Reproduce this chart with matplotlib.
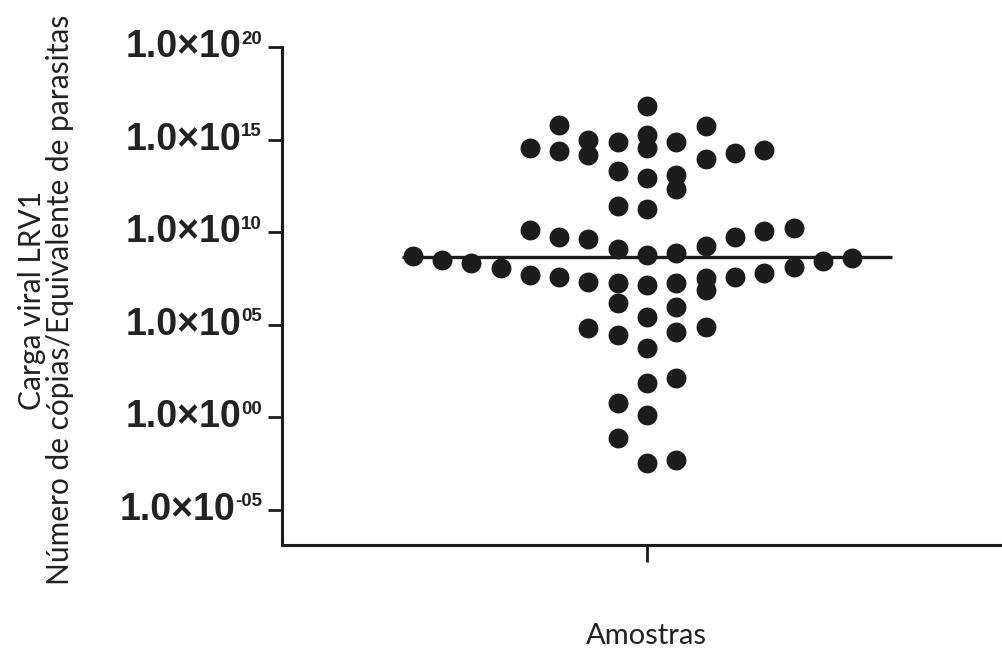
"""LRV1 viral load per sample, scatter dot plot on a log axis."""

import numpy as np
import matplotlib

matplotlib.use("Agg")
import matplotlib.pyplot as plt
import matplotlib.transforms as mtransforms
from matplotlib.ticker import FixedLocator, NullLocator

# log10(copies / parasite equivalent), one value per sample
log_load = [
    16.83, 15.79, 15.75, 15.25, 14.98, 14.89, 14.89, 14.53, 14.53, 14.44,
    14.38, 14.26, 14.17, 13.95, 13.32, 13.09, 12.92, 12.33, 11.41, 11.28,
    10.24, 10.12, 10.07, 9.76, 9.76, 9.63, 9.27, 9.08, 8.89, 8.79,
    8.72, 8.62, 8.50, 8.44, 8.32, 8.14, 8.05, 7.81, 7.69, 7.60,
    7.60, 7.53, 7.33, 7.24, 7.24, 7.15, 6.88, 6.19, 5.94, 5.41,
    4.87, 4.81, 4.60, 4.45, 3.73, 2.11, 1.84, 0.76, 0.13, -1.13,
    -2.30, -2.45,
]

tick_exponents = [20, 15, 10, 5, 0, -5]
x_label = "Amostras"
y_label = "Carga viral LRV1\nNúmero de cópias/Equivalente de parasitas"

INK = "#1c1c1c"
TEXT = "#222222"


def dot_columns(values, row_height=1.62, row_gap=1.58, min_gap=0.5):
    """Prism-like scatter layout: rows of close values spread centre-out,
    alternating the side each row starts on."""
    order = np.argsort(values)
    cols = np.zeros(len(values))
    placed = {}  # column -> list of values already there
    i, row = 0, 0
    while i < len(order):
        start = values[order[i]]
        members = []
        while i < len(order) and values[order[i]] < start + row_height:
            members.append(order[i])
            i += 1
        side = 1 if row % 2 == 0 else -1
        in_row = {}
        for j in members:
            v = values[j]
            k = 0
            while True:
                cands = [0] if k == 0 else [side * k, -side * k]
                hit = None
                for c in cands:
                    if any(abs(v - w) < row_gap for w in in_row.get(c, [])):
                        continue
                    if any(abs(v - w) < min_gap for w in placed.get(c, [])):
                        continue
                    hit = c
                    break
                if hit is not None:
                    break
                k += 1
            in_row.setdefault(hit, []).append(v)
            placed.setdefault(hit, []).append(v)
            cols[j] = hit
        row += 1
    return cols


logs = np.array(log_load)
values = 10.0 ** logs
cols = dot_columns(logs)

fig = plt.figure(figsize=(10.03, 6.53), dpi=100)
ax = fig.add_axes([0.2812, 0.1654, 0.7188, 0.7626])
ax.set_yscale("log")

ax.scatter(cols, values, s=205, color=INK, linewidths=0, zorder=3)
med = np.median(values)
ax.plot([-8.36, 8.36], [med, med], color=INK, lw=2.4, zorder=2, solid_capstyle="butt")

ax.set_xlim(-12.46, 12.15)
ax.set_ylim(10 ** -6.89, 1e20)
ticks = [10.0 ** e for e in tick_exponents]
ax.yaxis.set_major_locator(FixedLocator(ticks))
ax.yaxis.set_minor_locator(NullLocator())
ax.set_yticklabels([""] * len(ticks))
ax.set_xticks([0])
ax.set_xticklabels([""])

for side in ("top", "right"):
    ax.spines[side].set_visible(False)
for side in ("left", "bottom"):
    ax.spines[side].set_linewidth(2.2)
    ax.spines[side].set_color(INK)

ax.tick_params(axis="y", direction="out", length=10, width=2.0, color=INK)
ax.tick_params(axis="x", direction="out", length=12, width=2.0, color=INK)

# tick labels: small raised exponent, then "1.0×10" butted against its left edge
sup_tr = ax.get_yaxis_transform() + mtransforms.ScaledTranslation(-20 / 100, 8 / 100, fig.dpi_scale_trans)
for e, t in zip(tick_exponents, ticks):
    sup = ax.text(0, t, "%s%02d" % ("-" if e < 0 else "", abs(e)), transform=sup_tr,
                  ha="right", va="center", fontsize=13.5, fontweight="bold",
                  family="Liberation Sans", color=TEXT)
    ax.annotate("1.0×10", xy=(0, 0.5), xycoords=sup, xytext=(0, -8),
                textcoords="offset pixels", ha="right", va="center",
                fontsize=27, fontweight="bold", family="Liberation Sans", color=TEXT)

ax.set_xlabel(x_label, fontsize=21, family="Lato", color=TEXT, va="center")
ax.xaxis.set_label_coords(0.506, -0.182)
ax.set_ylabel(y_label, fontsize=21.5, family="Lato", color=TEXT, linespacing=1.0)
ax.yaxis.set_label_coords(-0.2885, 0.492)

fig.savefig("out.png", dpi=100)
